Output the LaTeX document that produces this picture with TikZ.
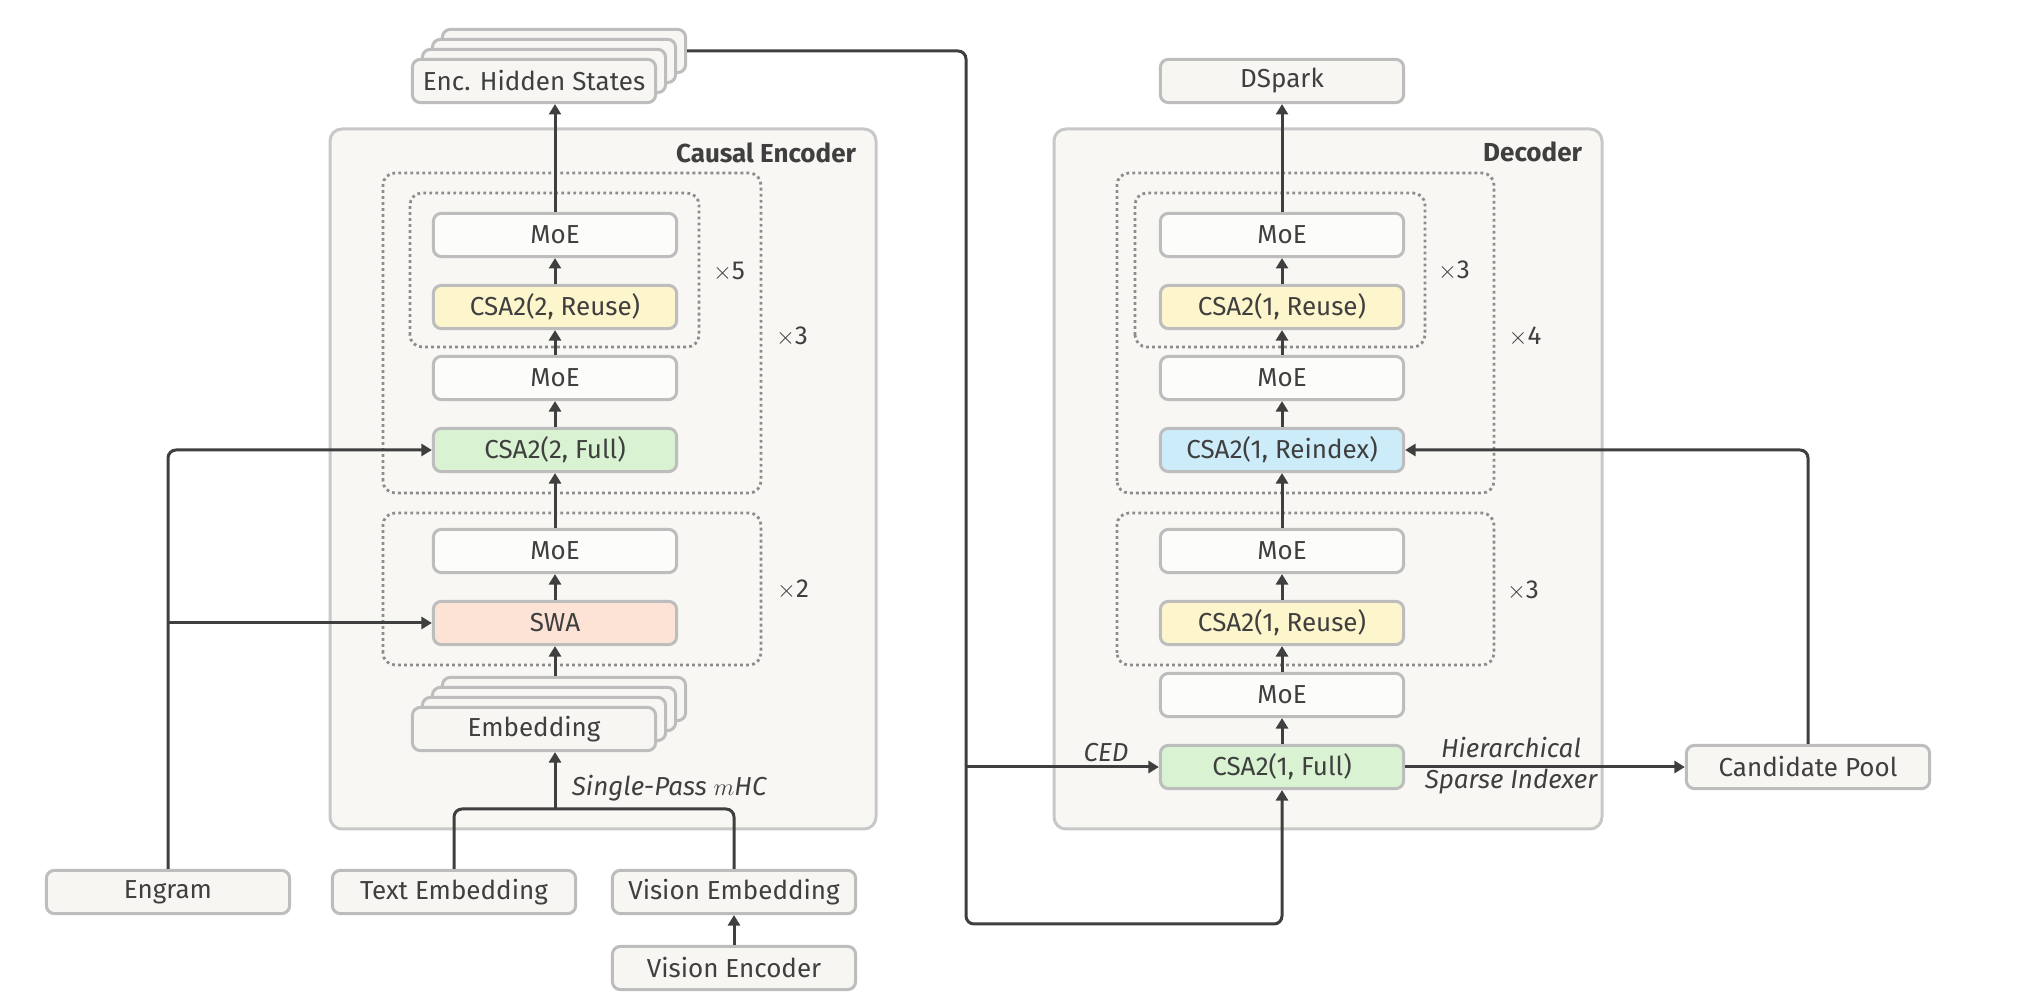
\documentclass[tikz,border=0pt]{standalone}
\usepackage{fontspec}
\setmainfont{Fira Sans}
\usetikzlibrary{arrows.meta}

\definecolor{ink}{HTML}{3F3F3F}
\definecolor{edge}{HTML}{BDBDBD}
\definecolor{frame}{HTML}{C8C8C8}
\definecolor{dots}{HTML}{8C8C8C}
\definecolor{panelfill}{HTML}{F8F7F4}
\definecolor{boxfill}{HTML}{F7F6F2}
\definecolor{moefill}{HTML}{FCFCFB}
\definecolor{reusefill}{HTML}{FDF5CB}
\definecolor{fullfill}{HTML}{D9F2D2}
\definecolor{reindexfill}{HTML}{CDECFA}
\definecolor{swafill}{HTML}{FDE3D5}

\begin{document}
\begin{tikzpicture}[x=0.025cm, y=0.025cm, text=ink,
  font=\fontsize{18.5}{22}\selectfont,
  block/.style={draw=edge, fill=boxfill, line width=0.075cm, rounded corners=0.2cm,
    minimum width=6.08cm, minimum height=1.08cm, inner sep=0pt},
  moe/.style={block, fill=moefill},
  reuse/.style={block, fill=reusefill},
  full/.style={block, fill=fullfill},
  reindex/.style={block, fill=reindexfill},
  swa/.style={block, fill=swafill},
  panel/.style={draw=frame, fill=panelfill, line width=0.075cm, rounded corners=0.3cm},
  repbox/.style={draw=dots, line width=0.07cm, dash pattern=on 0.07cm off 0.08cm, rounded corners=0.3cm},
  flow/.style={draw=ink, line width=0.075cm, -{Triangle[length=0.26cm, width=0.3cm]}},
  wire/.style={draw=ink, line width=0.075cm, rounded corners=0.2cm},
  title/.style={anchor=east, font=\fontsize{18.5}{22}\selectfont\bfseries},
  note/.style={font=\fontsize{18.5}{22}\selectfont\itshape}
]

\fill[white] (0,0) rectangle (2020,1000);
\useasboundingbox (0,0) rectangle (2020,1000);

% panels
\draw[panel] (330,171) rectangle (876,871);
\node[title] (enctitle) at (861,847) {Causal Encoder};

\draw[panel] (1054,171) rectangle (1602,871);
\node[title] (dectitle) at (1587,848) {Decoder};

% repeated groups, encoder
\draw[repbox] (383,507) rectangle (761,827);
\draw[repbox] (410,653) rectangle (699,807);
\draw[repbox] (383,335) rectangle (761,487);
\node (ex5) at (729,728) {$\times$5};
\node (ex3) at (792,663) {$\times$3};
\node (ex2) at (793,410) {$\times$2};

% repeated groups, decoder
\draw[repbox] (1117,507) rectangle (1494,827);
\draw[repbox] (1135,653) rectangle (1425,807);
\draw[repbox] (1117,335) rectangle (1494,487);
\node (dx3) at (1454,729) {$\times$3};
\node (dx4) at (1525,663) {$\times$4};
\node (dx3b) at (1523,409) {$\times$3};

% encoder blocks
\node[moe] (emoeA) at (555,765) {MoE};
\node[reuse] (ereuse) at (555,693) {CSA2(2, Reuse)};
\node[moe] (emoeB) at (555,622) {MoE};
\node[full] (efull) at (555,550) {CSA2(2, Full)};
\node[moe] (emoeC) at (555,449) {MoE};
\node[swa] (eswa) at (555,377) {SWA};

\foreach \k in {3,2,1}
  \node[block] (emb\k) at ({534+10*\k},{271+10*\k}) {};
\node[block] (emb) at (534,271) {Embedding};

\foreach \k in {3,2,1}
  \node[block] (ehid\k) at ({534+10*\k},{919+10*\k}) {};
\node[block] (ehid) at (534,919) {Enc. Hidden States};

% inputs
\node[block] (engram) at (168,108) {Engram};
\node[block] (temb) at (454,108) {Text Embedding};
\node[block] (vemb) at (734,108) {Vision Embedding};
\node[block] (venc) at (734,32) {Vision Encoder};

% decoder blocks
\node[block] (dspark) at (1282,919) {DSpark};
\node[moe] (dmoeA) at (1282,765) {MoE};
\node[reuse] (dreuseA) at (1282,693) {CSA2(1, Reuse)};
\node[moe] (dmoeB) at (1282,622) {MoE};
\node[reindex] (dreindex) at (1282,550) {CSA2(1, Reindex)};
\node[moe] (dmoeC) at (1282,449) {MoE};
\node[reuse] (dreuseB) at (1282,377) {CSA2(1, Reuse)};
\node[moe] (dmoeD) at (1282,305) {MoE};
\node[full] (dfull) at (1282,233) {CSA2(1, Full)};

\node[block] (cand) at (1808,233) {Candidate Pool};

% encoder flow
\foreach \a/\b in {eswa/emoeC, emoeC/efull, efull/emoeB, emoeB/ereuse, ereuse/emoeA}
  \draw[flow] (\a) -- (\b);
\draw[flow] (emoeA) -- (emoeA.north |- ehid.south);
\draw[flow] (eswa.south |- emb3.north) -- (eswa);

\coordinate (join) at (555,191);
\draw[wire] (temb) |- (join) -| (vemb);
\draw[flow] (join) -- (join |- emb.south);
\node[note, anchor=west] (pass) at (567,212) {Single-Pass $m$HC};

\draw[flow] (venc) -- (vemb);

\draw[flow, rounded corners=0.2cm] (engram) |- (efull);
\coordinate (tap) at (engram.north |- eswa.west);
\draw[flow] (tap) -- (eswa);

% decoder flow
\foreach \a/\b in {dfull/dmoeD, dmoeD/dreuseB, dreuseB/dmoeC, dmoeC/dreindex, dreindex/dmoeB, dmoeB/dreuseA, dreuseA/dmoeA, dmoeA/dspark}
  \draw[flow] (\a) -- (\b);

\coordinate (bus) at (966,76);
\draw[flow, rounded corners=0.2cm] (ehid3.east) -| (bus) -| (dfull);
\draw[flow] (bus |- dfull) -- (dfull);
\node[note] (ced) at (1106,247) {CED};

\draw[flow] (dfull) -- (cand);
\node[note, align=center] (hsi) at (1511,234) {Hierarchical\\Sparse Indexer};

\draw[flow, rounded corners=0.2cm] (cand) |- (dreindex);

\end{tikzpicture}
\end{document}
